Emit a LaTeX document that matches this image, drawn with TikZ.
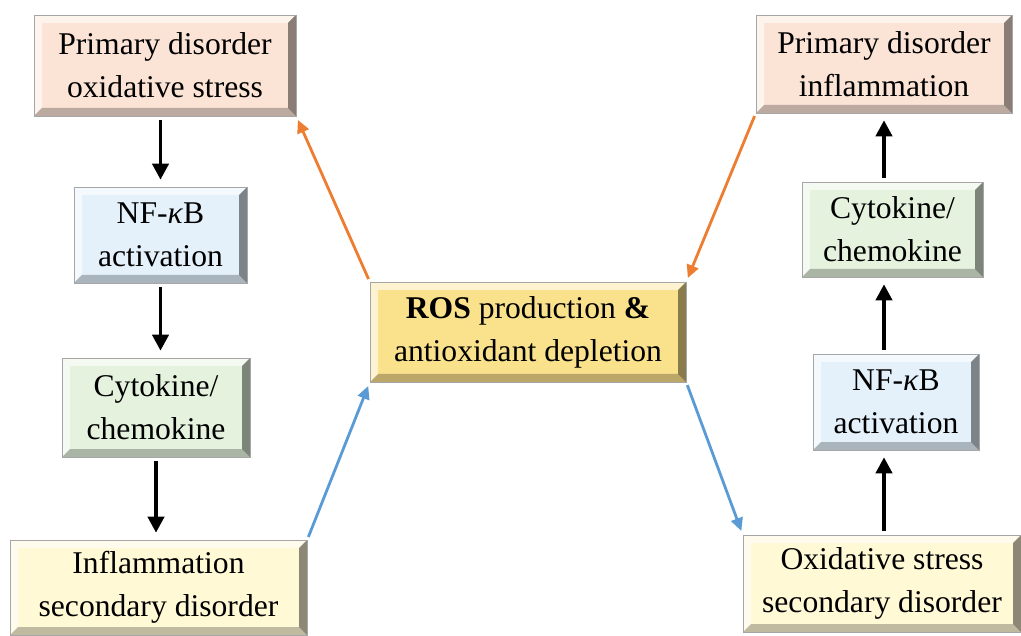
\documentclass[tikz,border=0pt]{standalone}
\usepackage{fontspec}
\setmainfont{Liberation Serif}
\usetikzlibrary{arrows.meta}
\definecolor{pinkbox}{RGB}{251,228,214}
\definecolor{bluebox}{RGB}{228,241,251}
\definecolor{greenbox}{RGB}{228,242,222}
\definecolor{creambox}{RGB}{255,249,214}
\definecolor{goldbox}{RGB}{250,225,140}
\definecolor{orangearrow}{RGB}{237,125,49}
\definecolor{bluearrow}{RGB}{91,155,213}
\begin{document}
\begin{tikzpicture}[
        bevelbox/.style={fill=#1, draw=black!35, line width=0.3pt, inner sep=0pt, align=center,
            font=\fontsize{18}{24.5}\selectfont,
            path picture={
                \fill[white, opacity=0.6] (path picture bounding box.south west) -- (path picture bounding box.north west)
                    -- ([shift={(0.16,-0.16)}]path picture bounding box.north west) -- ([shift={(0.16,0.16)}]path picture bounding box.south west) -- cycle;
                \fill[white, opacity=0.6] (path picture bounding box.north west) -- (path picture bounding box.north east)
                    -- ([shift={(-0.16,-0.16)}]path picture bounding box.north east) -- ([shift={(0.16,-0.16)}]path picture bounding box.north west) -- cycle;
                \fill[black, opacity=0.45] (path picture bounding box.north east) -- (path picture bounding box.south east)
                    -- ([shift={(-0.16,0.16)}]path picture bounding box.south east) -- ([shift={(-0.16,-0.16)}]path picture bounding box.north east) -- cycle;
                \fill[black, opacity=0.25] (path picture bounding box.south west) -- (path picture bounding box.south east)
                    -- ([shift={(-0.16,0.16)}]path picture bounding box.south east) -- ([shift={(0.16,0.16)}]path picture bounding box.south west) -- cycle;
            }},
        flowarrow/.style={-{Triangle[length=0.32cm, width=0.32cm]}, line width=2.2pt, shorten <=0.08cm, shorten >=0.14cm},
        diagarrow/.style={-{Triangle[length=0.26cm, width=0.24cm]}, line width=1.6pt, #1, shorten <=0.06cm, shorten >=0.08cm}
    ]
        \useasboundingbox (0, 0) rectangle (20.42, 12.7);
        % left column
        \node[bevelbox=pinkbox, minimum width=5.24cm, minimum height=2.02cm] (primL) at (3.30, 11.39) {Primary disorder\\oxidative stress};
        \node[bevelbox=bluebox, minimum width=3.46cm, minimum height=1.92cm] (nfkbL) at (3.21, 8.00) {NF-\textit{κ}B\\activation};
        \node[bevelbox=greenbox, minimum width=3.76cm, minimum height=1.98cm] (cytoL) at (3.12, 4.55) {Cytokine/\\chemokine};
        \node[bevelbox=creambox, minimum width=5.94cm, minimum height=1.90cm] (secL) at (3.17, 0.95) {Inflammation\\secondary disorder};
        % centre
        \node[bevelbox=goldbox, minimum width=6.32cm, minimum height=2.00cm] (ros) at (10.56, 6.06) {\textbf{ROS} production \textbf{\&}\\antioxidant depletion};
        % right column
        \node[bevelbox=pinkbox, minimum width=5.12cm, minimum height=1.96cm] (primR) at (17.68, 11.42) {Primary disorder\\inflammation};
        \node[bevelbox=greenbox, minimum width=3.62cm, minimum height=1.90cm] (cytoR) at (17.85, 8.11) {Cytokine/\\chemokine};
        \node[bevelbox=bluebox, minimum width=3.32cm, minimum height=1.92cm] (nfkbR) at (17.92, 4.66) {NF-\textit{κ}B\\activation};
        \node[bevelbox=creambox, minimum width=5.56cm, minimum height=1.94cm] (secR) at (17.64, 1.03) {Oxidative stress\\secondary disorder};

        \draw[flowarrow] (nfkbL.north |- primL.south) -- (nfkbL.north);
        \draw[flowarrow] (nfkbL.south) -- (nfkbL.south |- cytoL.north);
        \draw[flowarrow] (cytoL.south) -- (cytoL.south |- secL.north);
        \draw[flowarrow] (secR.north -| primR.south) -- (nfkbR.south -| primR.south);
        \draw[flowarrow] (nfkbR.north -| primR.south) -- (cytoR.south -| primR.south);
        \draw[flowarrow] (cytoR.north -| primR.south) -- (primR.south);

        \draw[diagarrow=orangearrow] (ros.north west) -- (primL.south east);
        \draw[diagarrow=orangearrow] (primR.south west) -- (ros.north east);
        \draw[diagarrow=bluearrow] (secL.north east) -- (ros.south west);
        \draw[diagarrow=bluearrow] (ros.south east) -- (secR.north west);
    \end{tikzpicture}
\end{document}
